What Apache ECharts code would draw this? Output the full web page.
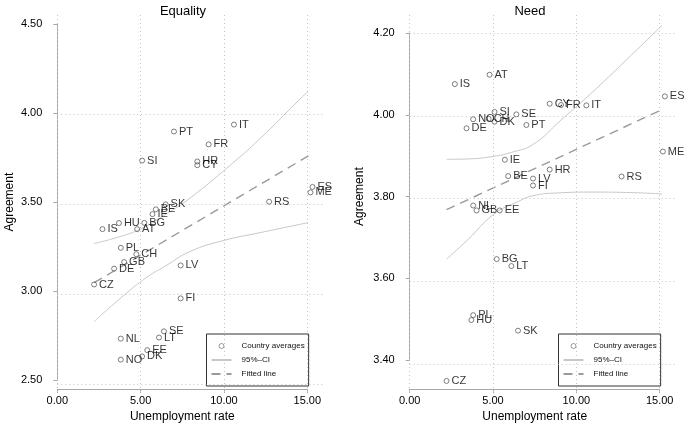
<!DOCTYPE html>
<html>
<head>
<meta charset="utf-8">
<script src="https://cdn.jsdelivr.net/npm/echarts@6/dist/echarts.min.js"></script>
<style>
  html, body { margin: 0; padding: 0; background: #fff; }
  #chart { width: 685px; height: 428px; }
</style>
</head>
<body>
<div id="chart"></div>
<script>
// country averages
const countries = ['AT', 'BE', 'BG', 'CH', 'CY', 'CZ', 'DE', 'DK', 'EE', 'ES', 'FI', 'FR', 'GB', 'HR', 'HU',
  'IE', 'IS', 'IT', 'LT', 'LV', 'ME', 'NL', 'NO', 'PL', 'PT', 'RS', 'SE', 'SI', 'SK']
const unemployment = [4.79, 5.91, 5.22, 4.74, 8.40, 2.21, 3.41, 5.09, 5.40, 15.31, 7.40, 9.08, 4.01, 8.40, 3.70,
  5.71, 2.71, 10.60, 6.10, 7.40, 15.19, 3.81, 3.81, 3.81, 7.00, 12.71, 6.40, 5.09, 6.50]
const equality = [3.348, 3.459, 3.383, 3.207, 3.707, 3.037, 3.126, 2.633, 2.668, 3.585, 2.959, 3.824, 3.163, 3.728, 3.382,
  3.432, 3.348, 3.935, 2.739, 3.144, 3.554, 2.733, 2.615, 3.243, 3.896, 3.502, 2.774, 3.733, 3.487]
const need = [4.098, 3.850, 3.647, 3.990, 4.027, 3.349, 3.967, 3.983, 3.766, 4.045, 3.827, 4.024, 3.766, 3.866, 3.498,
  3.890, 4.075, 4.023, 3.630, 3.844, 3.910, 3.778, 3.989, 3.510, 3.975, 3.849, 4.001, 4.007, 3.472]

// fitted lines and 95% CI
const eqFit = [[2.21, 3.047], [15.31, 3.773]]
const eqUpper = [[2.2, 3.267], [3.76, 3.306], [5.02, 3.35], [6.46, 3.428], [7.96, 3.522], [10.36, 3.706],
  [12.16, 3.856], [14.56, 4.078], [15.3, 4.144]]
const eqLower = [[2.2, 2.828], [3.88, 2.967], [5.38, 3.078], [6.46, 3.139], [7.96, 3.222], [9.94, 3.283],
  [12.16, 3.328], [15.3, 3.389]]
const needFit = [[2.21, 3.768], [15.31, 4.016]]
const needUpper = [[2.22, 3.891], [3.5, 3.892], [4.82, 3.897], [6.1, 3.908], [7.42, 3.928], [9.02, 3.985],
  [10.82, 4.05], [13.02, 4.135], [15.32, 4.226]]
const needLower = [[2.22, 3.647], [3.5, 3.695], [5.02, 3.756], [6.3, 3.784], [7.62, 3.804], [9.02, 3.809],
  [10.82, 3.811], [13.02, 3.81], [15.32, 3.806]]

// ticks
const xTicks = [0, 5, 10, 15]
const eqTicks = [2.5, 3, 3.5, 4, 4.5]
const needTicks = [3.4, 3.6, 3.8, 4.0, 4.2]
const eqGrid = [2.5, 3, 3.5, 4]
const needGrid = [3.4, 3.6, 3.8, 4.0, 4.2]

const legendNames = ['Country averages', '95%–CI', 'Fitted line']
const font = '"Liberation Sans", Arial, Helvetica, sans-serif'
const axisGray = '#a8a8a8'

const chart = echarts.init(document.getElementById('chart'), null, { renderer: 'canvas' })

function regionAxis(gridIndex, min, max) {
  return { gridIndex, type: 'value', min, max, show: false }
}

function dataXAxis(gridIndex, offset) {
  return {
    gridIndex,
    type: 'value',
    min: xTicks[0],
    max: xTicks[xTicks.length - 1],
    interval: 5,
    offset,
    axisLine: { show: true, lineStyle: { color: axisGray, width: 1 } },
    axisTick: { show: true, length: 4, lineStyle: { color: axisGray } },
    axisLabel: { color: '#000', fontSize: 11, margin: 6, formatter: v => v.toFixed(2) },
    splitLine: { show: false },
    name: 'Unemployment rate',
    nameLocation: 'middle',
    nameGap: 21,
    nameTextStyle: { color: '#000', fontSize: 12 },
  }
}

function dataYAxis(gridIndex, ticks, interval, offset, gap) {
  return {
    gridIndex,
    type: 'value',
    min: ticks[0],
    max: ticks[ticks.length - 1],
    interval,
    offset,
    axisLine: { show: true, lineStyle: { color: axisGray, width: 1 } },
    axisTick: { show: true, length: 4, lineStyle: { color: axisGray } },
    axisLabel: { color: '#000', fontSize: 11, margin: 7, formatter: v => v.toFixed(2) },
    splitLine: { show: false },
    name: 'Agreement',
    nameLocation: 'middle',
    nameGap: gap,
    nameRotate: 90,
    nameTextStyle: { color: '#000', fontSize: 12 },
  }
}

function gridLines(idx, yVals) {
  return {
    type: 'line',
    xAxisIndex: idx,
    yAxisIndex: idx,
    data: [],
    silent: true,
    markLine: {
      silent: true,
      symbol: ['none', 'none'],
      label: { show: false },
      animation: false,
      lineStyle: { color: '#c4c4c4', type: [1, 3], width: 1 },
      data: xTicks.map(v => ({ xAxis: v })).concat(yVals.map(v => ({ yAxis: v }))),
    },
  }
}

function points(idx, values) {
  return {
    type: 'scatter',
    name: 'Country averages',
    xAxisIndex: idx,
    yAxisIndex: idx,
    clip: false,
    symbol: 'circle',
    symbolSize: 5,
    itemStyle: { color: 'rgba(255,255,255,0)', borderColor: '#4d4d4d', borderWidth: 0.9 },
    label: {
      show: true,
      position: 'right',
      distance: 2,
      color: '#000',
      fontSize: 11,
      formatter: p => p.data[2],
    },
    data: countries.map((c, i) => [unemployment[i], values[i], c]),
    z: 5,
  }
}

function ciLine(idx, data) {
  return {
    type: 'line',
    name: '95%–CI',
    xAxisIndex: idx,
    yAxisIndex: idx,
    clip: false,
    data,
    smooth: true,
    symbol: 'none',
    lineStyle: { color: '#c8c8c8', width: 1 },
    z: 3,
  }
}

function fitLine(idx, data) {
  return {
    type: 'line',
    name: 'Fitted line',
    xAxisIndex: idx,
    yAxisIndex: idx,
    clip: false,
    data,
    symbol: 'none',
    lineStyle: { color: '#9a9a9a', width: 1.4, type: [9, 6] },
    z: 3,
  }
}

function legendBox(left) {
  return {
    left,
    top: 334,
    orient: 'vertical',
    itemWidth: 20,
    itemHeight: 5,
    itemGap: 4,
    padding: [7, 4, 7, 4],
    borderColor: '#333',
    borderWidth: 1,
    backgroundColor: '#fff',
    selectedMode: false,
    textStyle: { fontSize: 8, lineHeight: 10, color: '#111', padding: [0, 0, 0, 5] },
    data: [
      { name: legendNames[0], itemStyle: { borderWidth: 0.7 } },
      { name: legendNames[1], itemStyle: { opacity: 0 } },
      { name: legendNames[2], itemStyle: { opacity: 0 } },
    ],
  }
}

chart.setOption({
  animation: false,
  textStyle: { fontFamily: font },
  title: [
    { text: 'Equality', left: 178, top: 0, textAlign: 'center', textStyle: { fontSize: 13, fontWeight: 'normal', color: '#000' } },
    { text: 'Need', left: 525, top: 0, textAlign: 'center', textStyle: { fontSize: 13, fontWeight: 'normal', color: '#000' } },
  ],
  grid: [
    { left: 57.3, top: 15, width: 267.7, height: 377 },
    { left: 57.3, top: 24, width: 250, height: 360 },
    { left: 409.7, top: 15, width: 265.3, height: 377 },
    { left: 409.7, top: 33, width: 250, height: 331 },
  ],
  xAxis: [
    regionAxis(0, 0, 267.7 / 16.667),
    dataXAxis(1, 9),
    regionAxis(2, 0, 265.3 / 16.667),
    dataXAxis(3, 29),
  ],
  yAxis: [
    regionAxis(0, 2.5 - 8 / 180, 4.5 + 9 / 180),
    dataYAxis(1, eqTicks, 0.5, 8, 34),
    regionAxis(2, 3.4 - 28 / 413.75, 4.2 + 18 / 413.75),
    dataYAxis(3, needTicks, 0.2, 8, 36),
  ],
  legend: [legendBox(206.5), legendBox(558.5)],
  series: [
    gridLines(0, eqGrid),
    gridLines(2, needGrid),
    ciLine(1, eqUpper),
    ciLine(1, eqLower),
    fitLine(1, eqFit),
    points(1, equality),
    ciLine(3, needUpper),
    ciLine(3, needLower),
    fitLine(3, needFit),
    points(3, need),
  ],
})
</script>
</body>
</html>
